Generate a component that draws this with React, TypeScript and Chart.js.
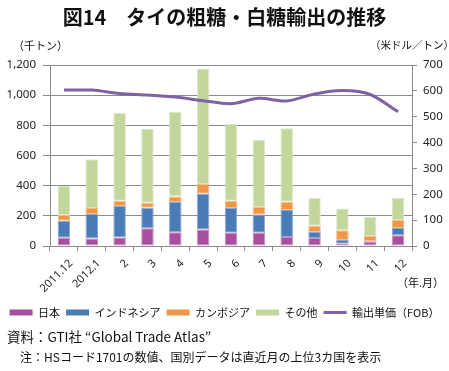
import React, { useEffect, useRef } from "react";
import { Chart, registerables } from "chart.js";

Chart.register(...registerables);

const categories = ["2011.12", "2012.1", "2", "3", "4", "5", "6", "7", "8", "9", "10", "11", "12"];
const japan = [55, 49, 57, 117, 91, 110, 88, 88, 60, 53, 15, 29, 71];
const indonesia = [113, 163, 208, 137, 201, 237, 164, 120, 179, 40, 25, 4, 48];
const cambodia = [38, 40, 35, 33, 37, 64, 48, 51, 55, 42, 64, 33, 53];
const others = [192, 323, 584, 489, 559, 765, 511, 446, 486, 183, 144, 126, 146];
const unitPrice = [603, 603, 590, 584, 576, 562, 550, 571, 561, 588, 601, 586, 519];

const seriesNames = ["日本", "インドネシア", "カンボジア", "その他", "輸出単価（FOB）"];
const leftTicks = [0, 200, 400, 600, 800, 1000, 1200];
const rightTicks = [0, 100, 200, 300, 400, 500, 600, 700];

const FONT = "'Noto Sans CJK JP', 'Noto Sans', sans-serif";
const GRID = "#8a8a8a";

export default function App() {
  const ref = useRef<HTMLCanvasElement | null>(null);

  useEffect(() => {
    if (!ref.current) return;
    const barColors = ["#AA4F9F", "#4A7DB8", "#F29643", "#C3D69B"];
    const barBorders = ["#C98DC2", "#8AAAD3", "#F7BE8C", "#DCE8C6"];
    const barData = [japan, indonesia, cambodia, others];
    const datasets: any[] = barData.map((d, i) => ({
      type: "bar",
      label: seriesNames[i],
      data: d,
      backgroundColor: barColors[i],
      borderColor: barBorders[i],
      borderWidth: 1,
      borderSkipped: false,
      yAxisID: "y",
      stack: "s",
      order: 1,
      barPercentage: 0.45,
      categoryPercentage: 1,
    }));
    datasets.push({
      type: "line",
      label: seriesNames[4],
      data: unitPrice,
      borderColor: "#7E62A3",
      backgroundColor: "#7E62A3",
      borderWidth: 3,
      pointRadius: 0,
      tension: 0.3,
      yAxisID: "y1",
      order: 0,
    });

    const chart = new Chart(ref.current, {
      type: "bar",
      data: { labels: categories, datasets },
      options: {
        responsive: false,
        animation: false,
        layout: { padding: { top: 65, left: 0, right: 0, bottom: 43 } },
        plugins: {
          title: { display: false },
          tooltip: { enabled: false },
          legend: {
            display: true,
            position: "bottom",
            labels: {
              usePointStyle: true,
              pointStyleWidth: 23,
              boxHeight: 6,
              padding: 6,
              color: "#111",
              font: { family: FONT, size: 11 },
              generateLabels: (c: any) =>
                c.data.datasets.map((ds: any, i: number) => ({
                  text: ds.label,
                  fillStyle: ds.backgroundColor,
                  strokeStyle: ds.type === "line" ? ds.borderColor : ds.backgroundColor,
                  lineWidth: ds.type === "line" ? 3 : 0,
                  pointStyle: ds.type === "line" ? "line" : "rect",
                  hidden: false,
                  datasetIndex: i,
                  fontColor: "#111",
                })),
            },
          },
        },
        scales: {
          x: {
            stacked: true,
            offset: true,
            grid: {
              offset: true,
              drawOnChartArea: false,
              drawTicks: true,
              tickLength: 5,
              color: GRID,
            },
            border: { color: GRID },
            ticks: {
              minRotation: 45,
              maxRotation: 45,
              autoSkip: false,
              color: "#222",
              padding: 6,
              labelOffset: 7,
              font: { family: "'Noto Sans', sans-serif", size: 11 },
            },
            afterFit: (s: any) => {
              s.height = 55;
            },
          },
          y: {
            stacked: true,
            position: "left",
            min: 0,
            max: 1200,
            afterBuildTicks: (s: any) => {
              s.ticks = leftTicks.map((v) => ({ value: v }));
            },
            grid: { color: GRID, tickLength: 7 },
            border: { color: GRID },
            ticks: {
              color: "#222",
              padding: 7,
              font: { family: "'Noto Sans', sans-serif", size: 11.5 },
              callback: (v: any) => Number(v).toLocaleString("en-US"),
            },
            afterFit: (s: any) => {
              s.width = 50;
            },
          },
          y1: {
            position: "right",
            min: 0,
            max: 700,
            afterBuildTicks: (s: any) => {
              s.ticks = rightTicks.map((v) => ({ value: v }));
            },
            grid: { drawOnChartArea: false, color: GRID, tickLength: 5 },
            border: { color: GRID },
            ticks: {
              color: "#222",
              padding: 6,
              font: { family: "'Noto Sans', sans-serif", size: 11.5 },
            },
            afterFit: (s: any) => {
              s.width = 37;
            },
          },
        },
      },
    });
    return () => chart.destroy();
  }, []);

  const abs = (style: React.CSSProperties): React.CSSProperties => ({
    position: "absolute",
    whiteSpace: "nowrap",
    fontFamily: FONT,
    color: "#111",
    lineHeight: 1,
    ...style,
  });

  return (
    <div style={{ position: "absolute", left: 0, top: 0, width: 449, height: 371, background: "#fff", overflow: "hidden" }}>
      <canvas ref={ref} width={449} height={371} style={{ position: "absolute", left: 0, top: 0, width: 449, height: 371 }} />
      <div style={abs({ left: 0, top: 7, width: 449, textAlign: "center", fontSize: 20, fontWeight: 700 })}>
        図14　タイの粗糖・白糖輸出の推移
      </div>
      <div style={abs({ left: 13, top: 40, fontSize: 11 })}>（千トン）</div>
      <div style={abs({ left: 370, top: 40, fontSize: 10.5 })}>（米ドル／トン）</div>
      <div style={abs({ left: 397, top: 277, fontSize: 11 })}>（年.月）</div>
      <div style={abs({ left: 7, top: 330, fontSize: 13.5 })}>資料：GTI社 “Global Trade Atlas”</div>
      <div style={abs({ left: 20, top: 351, fontSize: 12 })}>注：HSコード1701の数値、国別データは直近月の上位3カ国を表示</div>
    </div>
  );
}
